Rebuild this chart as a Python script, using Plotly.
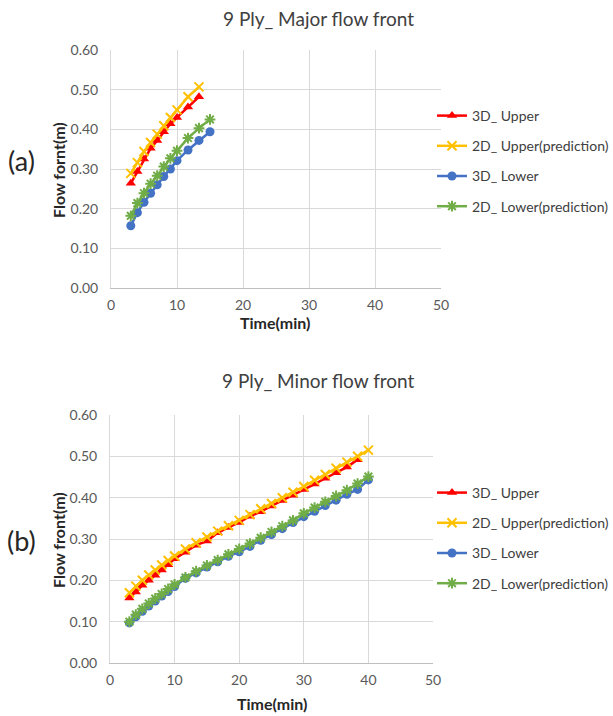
import plotly.graph_objects as go

# ---------------- data ----------------
# (a) Major flow front
t_a_upper = [3, 4, 5, 6, 7, 8, 9, 10, 11.67, 13.33]
t_a_lower = [3, 4, 5, 6, 7, 8, 9, 10, 11.67, 13.33, 15]
a_3d_upper = [0.264, 0.294, 0.325, 0.352, 0.372, 0.394, 0.414, 0.430, 0.456, 0.482]
a_2d_upper = [0.289, 0.316, 0.344, 0.367, 0.388, 0.409, 0.430, 0.449, 0.482, 0.507]
a_3d_lower = [0.157, 0.190, 0.216, 0.239, 0.260, 0.281, 0.300, 0.321, 0.348, 0.372, 0.394]
a_2d_lower = [0.182, 0.214, 0.239, 0.263, 0.283, 0.306, 0.327, 0.346, 0.378, 0.403, 0.425]

# (b) Minor flow front
t_b = [3, 4, 5, 6, 7, 8, 9, 10, 11.67, 13.33, 15, 16.67, 18.33, 20, 21.67, 23.33,
       25, 26.67, 28.33, 30, 31.67, 33.33, 35, 36.67, 38.33, 40]
b_3d_upper = [0.157, 0.172, 0.188, 0.200, 0.212, 0.225, 0.238, 0.252, 0.268, 0.285,
              0.295, 0.315, 0.328, 0.340, 0.355, 0.366, 0.380, 0.393, 0.406, 0.420,
              0.433, 0.447, 0.460, 0.474, 0.492]
b_2d_upper = [0.170, 0.186, 0.200, 0.213, 0.225, 0.237, 0.248, 0.259, 0.276, 0.291,
              0.305, 0.319, 0.332, 0.345, 0.359, 0.373, 0.386, 0.400, 0.413, 0.427,
              0.442, 0.456, 0.471, 0.486, 0.500, 0.515]
b_3d_lower = [0.097, 0.112, 0.125, 0.138, 0.150, 0.162, 0.173, 0.185, 0.205, 0.218,
              0.232, 0.245, 0.258, 0.269, 0.282, 0.297, 0.311, 0.325, 0.340, 0.354,
              0.367, 0.381, 0.394, 0.408, 0.420, 0.443]
b_2d_lower = [0.100, 0.117, 0.131, 0.144, 0.156, 0.167, 0.179, 0.190, 0.207, 0.222,
              0.236, 0.249, 0.263, 0.276, 0.289, 0.303, 0.317, 0.331, 0.345, 0.362,
              0.376, 0.390, 0.404, 0.418, 0.434, 0.451]

series_names = ["3D_ Upper", "2D_ Upper(prediction)", "3D_ Lower", "2D_ Lower(prediction)"]
x_ticks = [0, 10, 20, 30, 40, 50]
y_ticks = [0.0, 0.1, 0.2, 0.3, 0.4, 0.5, 0.6]

# ---------------- styles ----------------
W, H = 613, 716
FONT = "Lato"
colors = ["#ff0000", "#ffc000", "#4472c4", "#70ad47"]
symbols = ["triangle-up", "x-thin-open", "circle", "asterisk-open"]
msizes = [9, 9, 9, 9]

def px_x(p):
    return p / W

def px_y(p):
    return 1 - p / H

fig = go.Figure()

def add_set(xs_list, ys_list, xa, ya, legend):
    for i, (xs, ys) in enumerate(zip(xs_list, ys_list)):
        mk = dict(symbol=symbols[i], size=msizes[i], color=colors[i])
        if "open" in symbols[i]:
            mk["line"] = dict(color=colors[i], width=2)
        fig.add_trace(go.Scatter(
            x=xs, y=ys, mode="lines+markers", name=series_names[i],
            line=dict(color=colors[i], width=2.5), marker=mk,
            xaxis=xa, yaxis=ya, legend=legend, legendgroup=legend + str(i),
        ))

add_set([t_a_upper, t_a_upper, t_a_lower, t_a_lower],
        [a_3d_upper, a_2d_upper, a_3d_lower, a_2d_lower], "x", "y", "legend")
add_set([t_b[:-1], t_b, t_b, t_b],
        [b_3d_upper, b_2d_upper, b_3d_lower, b_2d_lower], "x2", "y2", "legend2")

grid = "#d9d9d9"
tickfont = dict(family=FONT, size=14, color="#595959")

def xaxis_cfg(dom, anchor):
    return dict(domain=dom, anchor=anchor, range=[0, 50], tickvals=x_ticks,
                ticktext=[str(v) for v in x_ticks], showgrid=True, gridcolor=grid,
                gridwidth=1, showline=True, linecolor="#bfbfbf", linewidth=1,
                mirror=False, zeroline=False, ticks="outside", ticklen=4,
                tickcolor="rgba(0,0,0,0)", tickfont=tickfont, fixedrange=True,
                automargin=False)

def yaxis_cfg(dom, anchor):
    return dict(domain=dom, anchor=anchor, range=[0, 0.6], tickvals=y_ticks,
                ticktext=["%.2f" % v for v in y_ticks], showgrid=True, gridcolor=grid,
                gridwidth=1, showline=True, linecolor=grid, linewidth=1,
                zeroline=False, ticks="outside", ticklen=9,
                tickcolor="rgba(0,0,0,0)", tickfont=tickfont, fixedrange=True,
                automargin=False)

legend_font = dict(family=FONT, size=14, color="#404040")

fig.update_layout(
    width=W, height=H, margin=dict(l=0, r=0, t=0, b=0, autoexpand=False),
    paper_bgcolor="white", plot_bgcolor="white",
    xaxis=xaxis_cfg([px_x(111), px_x(441)], "y"),
    yaxis=yaxis_cfg([px_y(288), px_y(50)], "x"),
    xaxis2=xaxis_cfg([px_x(110), px_x(433)], "y2"),
    yaxis2=yaxis_cfg([px_y(663), px_y(415)], "x2"),
    legend=dict(x=px_x(432), y=px_y(100), xanchor="left", yanchor="top",
                font=legend_font, tracegroupgap=9, bgcolor="rgba(0,0,0,0)",
                itemwidth=30),
    legend2=dict(x=px_x(432), y=px_y(477), xanchor="left", yanchor="top",
                 font=legend_font, tracegroupgap=9, bgcolor="rgba(0,0,0,0)",
                 itemwidth=30),
    showlegend=True,
)

def ann(text, x, y, size, color="#404040", bold=False, angle=0):
    if bold:
        text = "<b>" + text + "</b>"
    fig.add_annotation(text=text, x=px_x(x), y=px_y(y), xref="paper", yref="paper",
                       showarrow=False, textangle=angle,
                       font=dict(family=FONT, size=size, color=color),
                       xanchor="center", yanchor="middle")

ann("9 Ply_ Major flow front", 318, 18, 19, "#404040")
ann("Time(min)", 275, 322, 16, "#262626", bold=True)
ann("Flow fornt(m)", 58, 170, 16, "#262626", bold=True, angle=-90)
ann("(a)", 22, 160, 27, "#262626")

ann("9 Ply_ Minor flow front", 318, 380, 19, "#404040")
ann("Time(min)", 272, 703, 16, "#262626", bold=True)
ann("Flow front(m)", 58, 540, 16, "#262626", bold=True, angle=-90)
ann("(b)", 22, 540, 27, "#262626")

fig.write_html("out.html", config={"displayModeBar": False},
               post_script="document.body.style.margin='0';document.body.style.overflow='hidden';")
